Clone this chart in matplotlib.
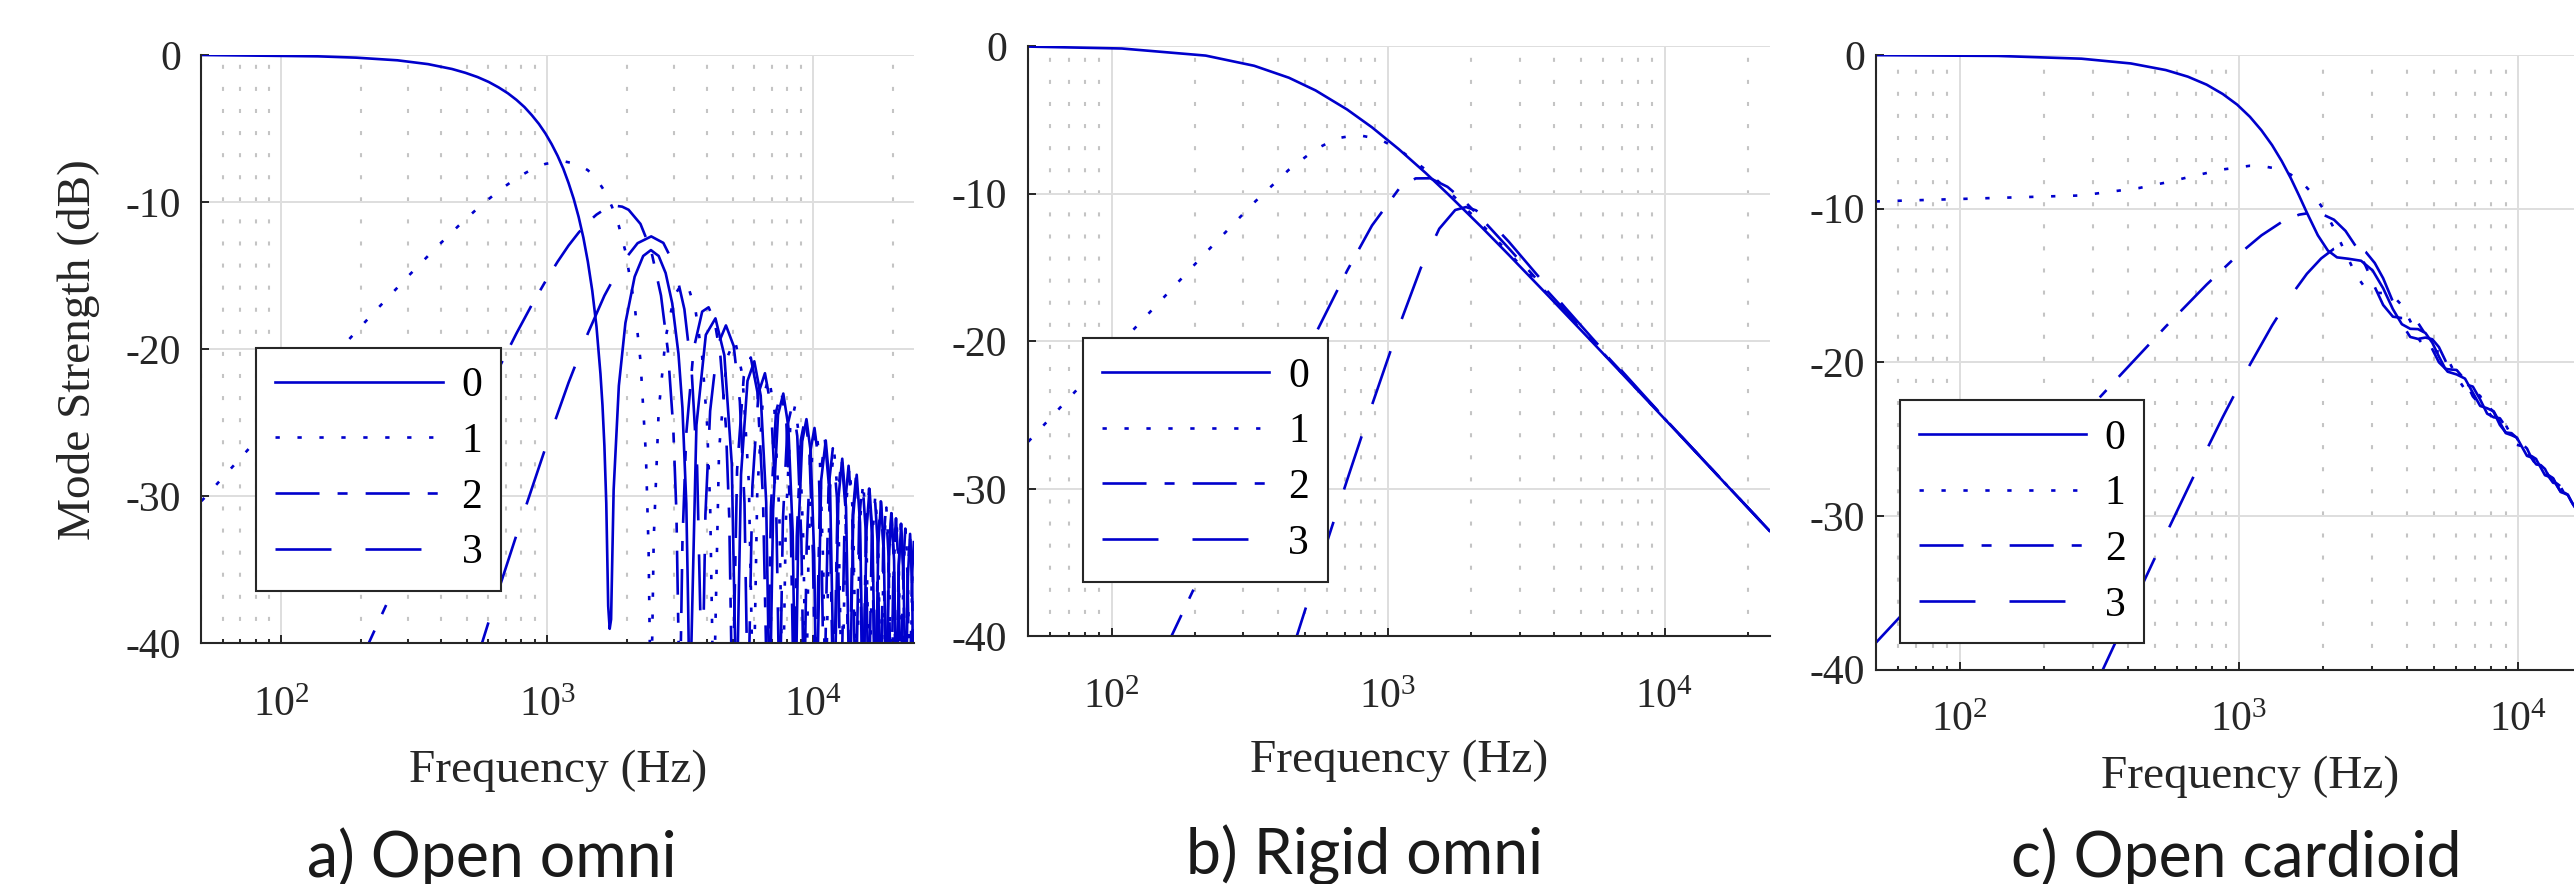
import matplotlib
matplotlib.use("Agg")
from matplotlib import pyplot as plt, rcParams
from matplotlib.ticker import LogLocator, NullFormatter, NullLocator

rcParams["font.family"] = ["Liberation Serif", "DejaVu Serif"]
rcParams["mathtext.fontset"] = "custom"
rcParams["mathtext.rm"] = "Liberation Serif"
rcParams["mathtext.it"] = "Liberation Serif:italic"
rcParams["axes.unicode_minus"] = False
rcParams["lines.scale_dashes"] = False

BLUE = "#0000cc"
INK = "#262626"

orders = ["0", "1", "2", "3"]
captions = ["a) Open omni", "b) Rigid omni", "c) Open cardioid"]

# %% a) open omni (Hz, dB); -45 = null below the axis
a0_f = [50, 137, 191, 273, 356, 438, 492, 547, 602, 656, 711, 766, 821, 875, 930,
        985, 1039, 1094, 1149, 1203, 1258, 1313, 1368, 1422, 1477, 1532, 1586,
        1614, 1641, 1668, 1696, 1718, 1739, 1778, 1860, 1969, 2133, 2297, 2456,
        2626, 2790, 2954, 3118, 3227, 3337, 3391, 3437,
        3643, 3952, 4296, 4640, 4949, 5155, 5362, 5671, 6015, 6358, 6668, 6874,
        7080, 7389, 7733, 8076, 8386, 8592, 8798, 9108, 9452, 9795, 10105, 10311,
        10740, 11170, 11600, 12029, 12459, 12888, 13318, 13748, 14177, 14607, 15037,
        15466, 15896, 16325, 16755, 17185, 17614, 18044, 18473, 18903, 19333, 19762,
        20192, 20622, 21051, 21481, 21910, 22340, 22769, 23199, 23629, 24000]
a0_db = [0, -0.09, -0.18, -0.36, -0.62, -0.95, -1.21, -1.50, -1.83, -2.20, -2.60,
         -3.05, -3.54, -4.09, -4.68, -5.34, -6.06, -6.85, -7.72, -8.70, -9.78,
         -11.01, -12.42, -14.05, -16.01, -18.44, -21.67, -23.80, -26.55, -30.46,
         -37.45, -39.0, -38.36, -29.55, -22.48, -18.21, -15.07, -13.66, -13.26,
         -13.66, -14.82, -16.88, -20.31, -23.99, -30.48, -37.46, -45,
         -25.15, -19.02, -17.90, -20.41, -27.81, -45, -28.51, -22.15, -20.82, -23.15,
         -30.40, -45, -30.92, -24.45, -23.01, -25.22, -32.39, -45, -32.81, -26.27,
         -24.75, -26.90, -34.01, -45,
         -28.87, -26.20, -29.54, -45, -30.16, -27.44, -30.74, -45, -31.28, -28.53,
         -31.79, -45, -32.28, -29.50, -32.73, -45, -33.17, -30.37, -33.58, -45,
         -33.98, -31.16, -34.35, -45, -34.72, -31.88, -35.06, -45, -35.40, -32.55,
         -35.72, -52]

a1_f = [50, 109, 219, 301, 383, 465, 547, 656, 766, 875, 985, 1138, 1313, 1422, 1532,
        1641, 1750, 1860, 1969, 2133, 2243, 2352, 2407, 2434, 2458,
        2516, 2626, 2790, 3009, 3227, 3391, 3610, 3829, 3993, 4103, 4185, 4226,
        4432, 4741, 5085, 5428, 5738, 5964, 6171, 6480, 6824, 7167, 7477, 7694,
        7900, 8209, 8553, 8897, 9207, 9420, 9626, 9935, 10279, 10623, 10932, 11143,
        11572, 12002, 12432, 12865, 13294, 13724, 14154, 14586, 15016, 15446, 15875,
        16307, 16737, 17166, 17596, 18027, 18457, 18887, 19316, 19747, 20177, 20607,
        21036, 21466, 21896, 22326, 22755, 23186, 23616, 24000]
a1_db = [-30.32, -23.56, -17.64, -15.00, -13.07, -11.59, -10.42, -9.24, -8.37, -7.77,
         -7.40, -7.20, -7.44, -7.83, -8.42, -9.23, -10.28, -11.62, -13.35, -17.02,
         -20.77, -27.20, -33.68, -40.5, -45,
         -32.93, -24.23, -19.20, -16.35, -15.49, -15.76, -17.28, -20.51, -25.02,
         -30.59, -40.2, -45,
         -26.85, -20.60, -19.37, -21.77, -29.10, -45, -29.73, -23.31, -21.92, -24.19,
         -31.39, -45, -31.87, -25.37, -23.88, -26.07, -33.20, -45, -33.59, -27.02,
         -25.48, -27.60, -34.69, -45,
         -29.52, -26.83, -30.14, -45, -30.72, -27.99, -31.27, -45, -31.78, -29.02,
         -32.27, -45, -32.72, -29.93, -33.16, -45, -33.57, -30.76, -33.97, -45,
         -34.35, -31.52, -34.71, -45, -35.06, -32.22, -35.39, -45, -35.71, -32.87]

a2_f = [191, 273, 383, 547, 766, 875, 985, 1094, 1203, 1313, 1422, 1532, 1641, 1750,
        1827, 1915, 2024, 2243, 2462, 2680, 2844, 2981, 3063, 3118, 3152,
        3227, 3337, 3556, 3829, 4048, 4267, 4485, 4704, 4841, 4923, 4975,
        5181, 5490, 5834, 6178, 6487, 6741, 6947, 7256, 7600, 7944, 8253, 8487,
        8693, 9002, 9346, 9690, 9999, 10223,
        10653, 11083, 11512, 11954, 12384, 12813, 13243, 13682, 14112, 14541, 14971,
        15408, 15837, 16267, 16697, 17132, 17561, 17991, 18421, 18856, 19285, 19715,
        20144, 20578, 21007, 21437, 21866, 22300, 22729, 23159, 23588, 24000]
a2_db = [-41.84, -35.72, -30.02, -24.15, -18.92, -16.98, -15.38, -14.05, -12.95,
         -12.07, -11.37, -10.85, -10.50, -10.30, -10.26, -10.31, -10.52, -11.48,
         -13.30, -16.35, -20.08, -25.35, -31.12, -39.5, -45,
         -33.10, -25.71, -19.99, -17.44, -17.15, -18.11, -20.49, -25.29, -31.42,
         -39.7, -45,
         -28.21, -21.87, -20.56, -22.90, -30.16, -45, -30.76, -24.29, -22.86, -25.08,
         -32.25, -45, -32.70, -26.17, -24.65, -26.81, -33.92, -45,
         -28.80, -26.13, -29.47, -45, -30.11, -27.39, -30.69, -45, -31.24, -28.49,
         -31.75, -45, -32.24, -29.47, -32.70, -45, -33.14, -30.34, -33.56, -45,
         -33.96, -31.14, -34.33, -45, -34.70, -31.86, -35.05, -45, -35.38, -32.53,
         -35.70, -45]

a3_f = [520, 656, 821, 985, 1203, 1422, 1641, 1915, 2188, 2462, 2735, 3009, 3282,
        3501, 3665, 3774, 3822, 3938, 4103, 4376, 4704, 5032, 5306, 5525, 5634, 5698,
        5914, 6236, 6596, 6955, 7278, 7493, 7705, 8022, 8376, 8728, 9046, 9258,
        9468, 9783, 10133, 10482, 10797, 11007,
        11442, 11878, 12312, 12748, 13182, 13616, 14050, 14483, 14916, 15349, 15782,
        16215, 16647, 17080, 17512, 17944, 18375, 18808, 19239, 19671, 20102, 20534,
        20965, 21397, 21828, 22260, 22691, 23122, 23553, 24000]
a3_db = [-42.2, -36.37, -30.96, -26.70, -22.27, -18.92, -16.36, -14.12, -12.79,
         -12.33, -12.77, -14.27, -17.28, -21.69, -28.01, -38.5, -45, -31.25, -24.19,
         -19.74, -18.38, -19.78, -23.54, -30.44, -39.96, -45,
         -29.36, -22.98, -21.63, -23.93, -31.16, -45, -31.65, -25.17, -23.70, -25.90,
         -33.05, -45, -33.45, -26.89, -25.35, -27.49, -34.59, -45,
         -29.42, -26.73, -30.06, -45, -30.65, -27.92, -31.20, -45, -31.72, -28.96,
         -32.21, -45, -32.68, -29.89, -33.12, -45, -33.53, -30.73, -33.93, -45,
         -34.32, -31.49, -34.68, -45, -35.03, -32.19, -35.37, -45, -35.69, -32.85]

# %% b) rigid omni
b0_f = [50, 109, 219, 328, 438, 547, 711, 875, 1094, 1368, 1641, 2188, 2735, 3829,
        5470, 8205, 10940, 16410, 24000]
b0_db = [-0.04, -0.17, -0.65, -1.34, -2.15, -3.01, -4.30, -5.51, -6.99, -8.60,
         -10.00, -12.30, -14.15, -16.99, -20.04, -23.54, -26.03, -29.55, -32.85]
b1_f = [50, 82, 137, 219, 328, 438, 547, 656, 774, 930, 1094, 1368, 1641, 2188,
        2735, 3829, 5470, 8205, 10940, 16410, 24000]
b1_db = [-26.80, -22.50, -18.07, -14.01, -10.60, -8.38, -6.99, -6.25, -6.02, -6.31,
         -6.99, -8.38, -9.75, -12.11, -14.01, -16.91, -20.00, -23.52, -26.02, -29.54,
         -32.85]
b2_f = [153, 219, 328, 438, 547, 711, 875, 1094, 1258, 1422, 1641, 1915, 2188, 2735,
        3829, 5470, 8205, 10940, 16410, 24000]
b2_db = [-41.24, -35.08, -28.12, -23.23, -19.49, -15.23, -12.16, -9.69, -8.97, -8.96,
         -9.54, -10.62, -11.73, -13.71, -16.74, -19.92, -23.48, -26.00, -29.54, -32.85]
b3_f = [438, 547, 711, 875, 1094, 1313, 1532, 1750, 1915, 2079, 2297, 2735, 3282,
        4376, 5470, 8205, 10940, 16410, 24000]
b3_db = [-41.65, -35.98, -29.41, -24.32, -19.03, -15.05, -12.38, -11.11, -10.91,
         -11.13, -11.75, -13.26, -15.00, -17.73, -19.78, -23.43, -26.00, -29.54,
         -32.85]

# %% c) open cardioid
c0_f = [50, 137, 273, 410, 547, 656, 766, 875, 985, 1094, 1203, 1313, 1422, 1532,
        1641, 1750, 1915, 2079, 2243, 2462,
        2735, 3009, 3282, 3556, 3829, 4103, 4376, 4650, 4923, 5197, 5470,
        5585, 6015, 6444, 6874, 7303, 7733, 8163, 8592, 9022, 9452, 9881, 10311,
        10740, 11170, 11600, 12029, 12459, 12888, 13318, 13748, 14177, 14607, 15037,
        15466, 15896, 16325, 24000]
c0_db = [-0.01, -0.06, -0.24, -0.55, -0.98, -1.41, -1.93, -2.54, -3.23, -4.02,
         -4.90, -5.86, -6.90, -8.01, -9.15, -10.26, -11.73, -12.72, -13.17, -13.26,
         -13.39, -14.02, -15.18, -16.54, -17.52, -17.82, -17.84, -18.09, -18.73,
         -19.62, -20.40,
         -20.61, -20.79, -21.06, -21.98, -22.84, -22.99, -23.19, -23.92, -24.61,
         -24.74, -24.90, -25.51, -26.09, -26.20, -26.33, -26.85, -27.35, -27.44,
         -27.56, -28.01, -28.44, -28.53, -28.63, -29.03, -29.42, -29.50, -32.85]
c1_f = [50, 273, 438, 547, 711, 875, 1094, 1203, 1368, 1532, 1696, 1860, 2024, 2188,
        2407, 2626, 2844, 3063, 3282, 3556, 3829, 4103, 4376, 4650, 4923, 5197, 5470,
        5585, 6015, 6444, 6874, 7303, 7733, 8163, 8592, 9022, 9452, 9881, 10311,
        10740, 11170, 11600, 12029, 12459, 12888, 13318, 13748, 14177, 14607, 15037,
        15466, 15896, 16325, 24000]
c1_db = [-9.53, -9.14, -8.66, -8.30, -7.81, -7.45, -7.21, -7.22, -7.40, -7.78,
         -8.37, -9.15, -10.14, -11.27, -12.89, -14.33, -15.21, -15.48, -15.49,
         -15.67, -16.29, -17.31, -18.41, -19.11, -19.28, -19.30, -19.56,
         -19.77, -20.93, -21.78, -21.88, -22.19, -23.07, -23.76, -23.85, -24.09,
         -24.79, -25.37, -25.46, -25.64, -26.20, -26.74, -26.85, -26.96, -27.44,
         -27.91, -28.01, -28.11, -28.53, -28.94, -29.03, -29.12, -29.50, -32.85]
c2_f = [50, 66, 109, 191, 273, 383, 547, 766, 985, 1203, 1422, 1641, 1805, 1969,
        2188, 2407, 2626, 2844, 3063, 3282, 3556, 3829, 4103, 4376, 4650, 4923, 5197,
        5470,
        5585, 6015, 6444, 6874, 7303, 7733, 8163, 8592, 9022, 9452, 9881, 10311,
        10740, 11170, 11600, 12029, 12459, 12888, 13318, 13748, 14177, 14607, 15037,
        15466, 15896, 16325, 24000]
c2_db = [-38.27, -35.92, -31.49, -26.64, -23.56, -20.68, -17.67, -14.94, -13.06,
         -11.74, -10.87, -10.39, -10.27, -10.33, -10.72, -11.45, -12.48, -13.75,
         -15.10, -16.27, -17.03, -17.12, -17.13, -17.44, -18.18, -19.15, -20.00,
         -20.40,
         -20.45, -20.50, -21.14, -22.22, -22.77, -22.80, -23.23, -24.08, -24.57,
         -24.61, -24.92, -25.62, -26.04, -26.11, -26.30, -26.88, -27.31, -27.37,
         -27.54, -28.03, -28.41, -28.48, -28.61, -29.05, -29.40, -29.46, -32.85]
c3_f = [301, 328, 438, 547, 711, 875, 1094, 1313, 1532, 1750, 1969, 2188, 2407, 2626,
        2844, 3063, 3282, 3556, 3829, 4103, 4376, 4650, 4923, 5197, 5470,
        5585, 6015, 6444, 6874, 7303, 7733, 8163, 8592, 9022, 9452, 9881, 10311,
        10740, 11170, 11600, 12029, 12459, 12888, 13318, 13748, 14177, 14607, 15037,
        15466, 15896, 16325, 24000]
c3_db = [-41.36, -39.87, -34.96, -31.21, -26.88, -23.56, -20.16, -17.61, -15.68,
         -14.24, -13.24, -12.61, -12.35, -12.42, -12.82, -13.54, -14.53, -16.05,
         -17.50, -18.35, -18.48, -18.39, -18.50, -19.01, -19.85,
         -20.24, -21.31, -21.42, -21.58, -22.42, -23.34, -23.58, -23.64, -24.21,
         -24.99, -25.27, -25.30, -25.61, -26.26, -26.65, -26.69, -26.94, -27.48,
         -27.84, -27.89, -28.08, -28.56, -28.89, -28.93, -29.10, -29.53, -32.85]

# line styles in points (0 solid, 1 dotted, 2 dash-dot, 3 dashed)
styles = ["-", (0, (3.1, 12.7)), (0, (31.7, 13, 7.2, 13)), (0, (40.3, 24.5))]

fig = plt.figure(figsize=(25.74, 8.84), dpi=100)


def panel(rect, curves, leg_xy, ypad, xpad, xlab_y):
    ax = fig.add_axes(rect)
    handles = []
    for (f, db), ls in zip(curves, styles):
        (h,) = ax.plot(f, db, color=BLUE, lw=1.9, ls=ls)
        handles.append(h)
    ax.set_xscale("log")
    ax.set_xlim(50, 24000)
    ax.set_ylim(-40, 0)
    ax.set_yticks(range(-40, 1, 10))
    ax.yaxis.set_minor_locator(NullLocator())
    ax.xaxis.set_major_locator(LogLocator(base=10))
    ax.xaxis.set_minor_locator(LogLocator(base=10, subs=range(2, 10)))
    ax.xaxis.set_minor_formatter(NullFormatter())
    ax.grid(True, which="major", color="#dedede", lw=1.4, ls="-")
    ax.grid(True, which="minor", axis="x", color="#c4c4c4", lw=1.5,
            ls=(0, (2.9, 13)))
    ax.set_axisbelow(True)
    for s in ("top", "right"):
        ax.spines[s].set_visible(False)
    for s in ("left", "bottom"):
        ax.spines[s].set_color(INK)
        ax.spines[s].set_linewidth(1.5)
    ax.tick_params(which="both", direction="in", colors=INK, width=1.4,
                   top=False, right=False, labelsize=30)
    ax.tick_params(which="major", length=6)
    ax.tick_params(which="minor", length=3)
    ax.tick_params(axis="y", pad=ypad)
    ax.tick_params(axis="x", pad=xpad)
    ax.set_xlabel("Frequency (Hz)", fontsize=34, color=INK)
    ax.xaxis.set_label_coords(0.5, xlab_y)
    ax.xaxis.label.set_va("baseline")
    leg = ax.legend(handles, orders, loc="lower left", bbox_to_anchor=leg_xy,
                    borderaxespad=0, fancybox=False, framealpha=1,
                    edgecolor=INK, fontsize=30, handlelength=4.02,
                    handletextpad=0.45, borderpad=0.45, labelspacing=0.413)
    leg.get_frame().set_linewidth(1.5)
    return ax


ax_a = panel([0.07828, 0.27206, 0.27681, 0.66572],
             [(a0_f, a0_db), (a1_f, a1_db), (a2_f, a2_db), (a3_f, a3_db)],
             (0.0772, 0.0892), 14.4, 31.3, -0.2353)
ax_a.set_ylabel("Mode Strength (dB)", fontsize=34, color=INK)
ax_a.yaxis.set_label_coords(-0.172, 0.5)
ax_a.yaxis.label.set_va("center")

panel([0.39950, 0.27998, 0.28800, 0.66799],
      [(b0_f, b0_db), (b1_f, b1_db), (b2_f, b2_db), (b3_f, b3_db)],
      (0.0739, 0.0931), 15.5, 30.6, -0.2295)

panel([0.72867, 0.24253, 0.29095, 0.69525],
      [(c0_f, c0_db), (c1_f, c1_db), (c2_f, c2_db), (c3_f, c3_db)],
      (0.0323, 0.0425), 7.5, 23, -0.1927)

for text, x, y in zip(captions, [491.5, 1365, 2236], [877, 875, 877]):
    fig.text(x / 2574, 1 - y / 884, text, family=["Lato", "DejaVu Sans"],
             fontsize=45, fontweight="normal", ha="center", va="baseline",
             color="#1a1a1a")

fig.savefig("out.png", dpi=100)
